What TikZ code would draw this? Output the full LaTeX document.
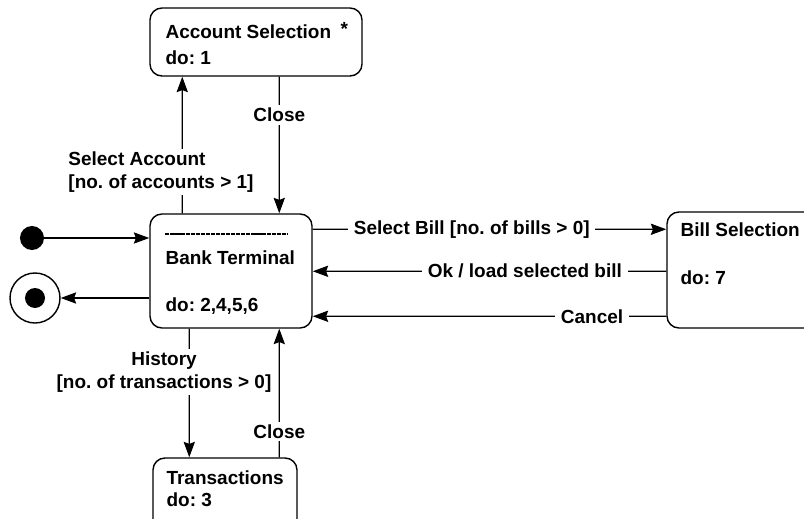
\documentclass[tikz,border=0pt]{standalone}
\usepackage{fontspec}
\setmainfont{Liberation Sans}
\usepackage{tikz}
\usetikzlibrary{arrows.meta, positioning, calc}
\frenchspacing

\begin{document}
\begin{tikzpicture}[
    x=0.025cm, y=-0.025cm,
    % Node styles
    statebox/.style={rectangle, rounded corners=0.3cm, draw=black, line width=1pt},
    txt/.style={font=\fontsize{13.5}{16}\selectfont\bfseries, inner sep=0pt, anchor=base west},
    lbl/.style={font=\fontsize{13.5}{16}\selectfont\bfseries, fill=white, inner xsep=4pt, inner ysep=2pt},
    initstate/.style={circle, fill=black, minimum size=0.6cm, inner sep=0pt},
    finalring/.style={circle, draw=black, line width=1pt, minimum size=1.25cm, inner sep=0pt},
    finaldot/.style={circle, fill=black, minimum size=0.5cm, inner sep=0pt},
    arrow/.style={-{Stealth[length=11pt, width=8pt, inset=1.5pt]}, thick}
]
\useasboundingbox (0,0) rectangle (804,519);
\clip (0,0) rectangle (804,519);

% States
\node[statebox, minimum width=5.3cm, minimum height=1.7cm] (acct) at (256,42) {};
\node[statebox, minimum width=4.05cm, minimum height=2.85cm] (bank) at (231,271) {};
\node[statebox, minimum width=4.2cm, minimum height=2.9cm] (bill) at (751,270) {};
\node[statebox, minimum width=3.6cm, minimum height=2.1cm] (trans) at (225,500) {};

% Pseudo states
\node[initstate] (init) at (32,238) {};
\node[finalring] (final) at (35,298) {};
\node[finaldot] (finalcore) at (final) {};

% State texts
\node[txt] (acctname) at ($(acct.north west)+(16,31)$) {Account Selection};
\node[txt] (acctdo) at ($(acct.north west)+(16,57)$) {do: 1};
\node[font=\fontsize{13.5}{16}\selectfont\bfseries, inner sep=0pt] (acctstar) at ($(acct.north west)+(195,22)$) {*};
\draw[line width=1.2pt, dash pattern=on 3pt off 0.6pt] ($(bank.north west)+(16,21)$) -- ($(bank.north west)+(138,21)$);
\node[txt] (bankname) at ($(bank.north west)+(16,51)$) {Bank Terminal};
\node[txt] (bankdo) at ($(bank.north west)+(16,98)$) {do: 2,4,5,6};
\node[txt] (billname) at ($(bill.north west)+(14,25)$) {Bill Selection};
\node[txt] (billdo) at ($(bill.north west)+(14,73)$) {do: 7};
\node[txt] (transname) at ($(trans.north west)+(14,27)$) {Transactions};
\node[txt] (transdo) at ($(trans.north west)+(14,49)$) {do: 3};

% Transitions
\draw[arrow] (init) -- (init -| bank.west);
\draw[arrow] (final -| bank.west) -- (final);

\draw[arrow] ($(bank.north west)+(33,0)$) -- ($(acct.south west)+(33,0)$);
\draw[arrow] ($(acct.south west)+(130,0)$) -- node[lbl, pos=0.28] (closeup) {Close} ($(bank.north west)+(130,0)$);

\draw[arrow] ($(bank.south west)+(40,0)$) -- ($(trans.north west)+(37,0)$);
\draw[arrow] ($(trans.north west)+(127,0)$) -- node[lbl, pos=0.2] (closedown) {Close} ($(bank.south west)+(130,0)$);

\draw[arrow] ($(bank.north east)+(0,16)$) -- node[lbl, pos=0.45] (selbill) {Select Bill [no. of bills > 0]} ($(bill.north west)+(0,18)$);
\draw[arrow] ($(bill.north west)+(0,60)$) -- node[lbl, pos=0.4] (okbill) {Ok / load selected bill} ($(bank.north east)+(0,58)$);
\draw[arrow] ($(bill.north west)+(0,105)$) -- node[lbl, pos=0.21] (cancel) {Cancel} ($(bank.north east)+(0,103)$);

% Guard labels beside the vertical transitions
\node[lbl, align=left] (selacct) at (161,172) {Select Account\\{[no. of accounts > 1]}};
\node[lbl, align=center] (history) at (164,372) {History\\{[no. of transactions > 0]}};

\end{tikzpicture}
\end{document}
